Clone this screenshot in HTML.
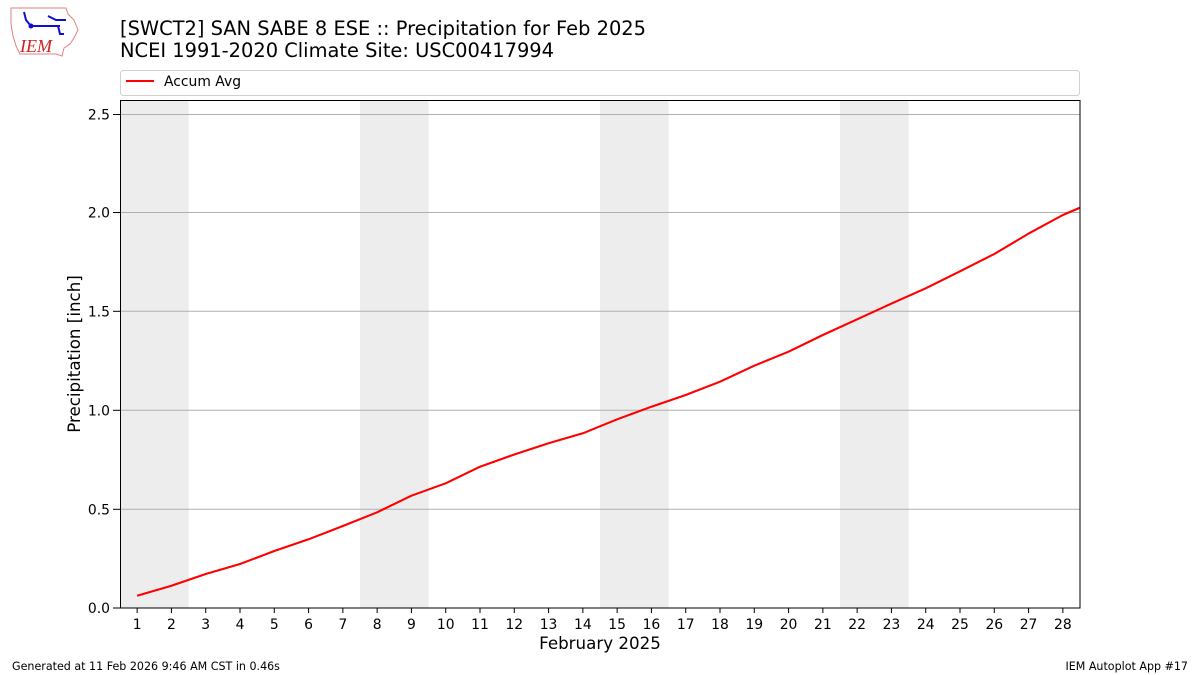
<!DOCTYPE html>
<html><head><meta charset="utf-8">
<style>
html,body{margin:0;padding:0;background:#fff;}
svg{display:block;font-family:"DejaVu Sans","Liberation Sans",sans-serif;}
</style></head>
<body>
<svg width="1200" height="675" viewBox="0 0 1200 675" xmlns="http://www.w3.org/2000/svg">
<defs><clipPath id="pc"><rect x="120" y="100" width="960" height="508"/></clipPath></defs>
<rect width="1200" height="675" fill="#fff"/>
<!-- logo -->
<g>
<path d="M11,8 L66,8 L68,14 L74,20 L78,30 L74,38 L70,44 L64,48 L62,56 L56,54 L20,54 L16,46 L13,36 L11,24 Z" fill="none" stroke="#e08080" stroke-width="1"/>
<path d="M24,12 L26,20 L31,26 L60,26 M48,16 L56,20 L66,20 M58,26 L60,34 L64,34" fill="none" stroke="#1010d0" stroke-width="2"/>
<circle cx="31" cy="26" r="2.5" fill="#1010d0"/>
<text x="20" y="52" font-family="Liberation Serif,serif" font-style="italic" font-size="18" fill="#d02020">IEM</text>
</g>
<!-- title -->
<text x="120" y="35" font-size="19.4" fill="#000" textLength="526" lengthAdjust="spacingAndGlyphs">[SWCT2] SAN SABE 8 ESE :: Precipitation for Feb 2025</text>
<text x="120" y="57" font-size="19.4" fill="#000" textLength="434" lengthAdjust="spacingAndGlyphs">NCEI 1991-2020 Climate Site: USC00417994</text>
<!-- legend -->
<rect x="120.5" y="70.5" width="959" height="25" rx="3" ry="3" fill="#fff" stroke="#d0d0d0" stroke-width="1"/>
<line x1="126" y1="81" x2="154" y2="81" stroke="#ff0000" stroke-width="2"/>
<text x="164" y="86" font-size="13.9" fill="#000">Accum Avg</text>
<!-- shading -->
<g fill="#ededed">
<rect x="120" y="100" width="68.6" height="508"/>
<rect x="360" y="100" width="68.6" height="508"/>
<rect x="600" y="100" width="68.6" height="508"/>
<rect x="840" y="100" width="68.6" height="508"/>
</g>
<!-- grid -->
<g stroke="#b0b0b0" stroke-width="1">
<line x1="120" x2="1080" y1="509.3" y2="509.3"/>
<line x1="120" x2="1080" y1="410.3" y2="410.3"/>
<line x1="120" x2="1080" y1="311.3" y2="311.3"/>
<line x1="120" x2="1080" y1="212.5" y2="212.5"/>
<line x1="120" x2="1080" y1="114.5" y2="114.5"/>
</g>
<!-- series -->
<polyline clip-path="url(#pc)" fill="none" stroke="#ff0000" stroke-width="2.1" stroke-linejoin="round"
points="137.14,595.7 171.43,585.7 205.71,574 240,564 274.29,551 308.57,539.3 342.86,526 377.14,512.3 411.43,495.7 445.71,483.3 480,466.7 514.29,454.5 548.57,443.3 582.86,433.3 617.14,419.3 651.43,406.7 685.71,395 720,381.7 754.29,365.7 788.57,351.7 822.86,335 857.14,319.3 891.43,303.6 925.71,288.3 960,271.3 994.29,254 1028.57,233.6 1062.86,215 1097.14,200.4"/>
<!-- axes frame -->
<rect x="120.5" y="100.5" width="959.5" height="507.5" fill="none" stroke="#000" stroke-width="1"/>
<!-- y ticks -->
<g stroke="#000" stroke-width="1">
<line x1="113" x2="120" y1="608" y2="608"/>
<line x1="113" x2="120" y1="509.3" y2="509.3"/>
<line x1="113" x2="120" y1="410.3" y2="410.3"/>
<line x1="113" x2="120" y1="311.3" y2="311.3"/>
<line x1="113" x2="120" y1="212.5" y2="212.5"/>
<line x1="113" x2="120" y1="114.5" y2="114.5"/>
</g>
<g font-size="13.9" fill="#000" text-anchor="end">
<text x="110" y="613">0.0</text>
<text x="110" y="514.3">0.5</text>
<text x="110" y="415.3">1.0</text>
<text x="110" y="316.3">1.5</text>
<text x="110" y="217.5">2.0</text>
<text x="110" y="119.5">2.5</text>
</g>
<text transform="translate(80,354) rotate(-90)" font-size="16.7" text-anchor="middle" fill="#000">Precipitation [inch]</text>
<!-- x ticks -->
<g stroke="#000" stroke-width="1">
<line x1="137.14" x2="137.14" y1="608" y2="613"/><line x1="171.43" x2="171.43" y1="608" y2="613"/><line x1="205.71" x2="205.71" y1="608" y2="613"/><line x1="240" x2="240" y1="608" y2="613"/><line x1="274.29" x2="274.29" y1="608" y2="613"/><line x1="308.57" x2="308.57" y1="608" y2="613"/><line x1="342.86" x2="342.86" y1="608" y2="613"/><line x1="377.14" x2="377.14" y1="608" y2="613"/><line x1="411.43" x2="411.43" y1="608" y2="613"/><line x1="445.71" x2="445.71" y1="608" y2="613"/><line x1="480" x2="480" y1="608" y2="613"/><line x1="514.29" x2="514.29" y1="608" y2="613"/><line x1="548.57" x2="548.57" y1="608" y2="613"/><line x1="582.86" x2="582.86" y1="608" y2="613"/><line x1="617.14" x2="617.14" y1="608" y2="613"/><line x1="651.43" x2="651.43" y1="608" y2="613"/><line x1="685.71" x2="685.71" y1="608" y2="613"/><line x1="720" x2="720" y1="608" y2="613"/><line x1="754.29" x2="754.29" y1="608" y2="613"/><line x1="788.57" x2="788.57" y1="608" y2="613"/><line x1="822.86" x2="822.86" y1="608" y2="613"/><line x1="857.14" x2="857.14" y1="608" y2="613"/><line x1="891.43" x2="891.43" y1="608" y2="613"/><line x1="925.71" x2="925.71" y1="608" y2="613"/><line x1="960" x2="960" y1="608" y2="613"/><line x1="994.29" x2="994.29" y1="608" y2="613"/><line x1="1028.57" x2="1028.57" y1="608" y2="613"/><line x1="1062.86" x2="1062.86" y1="608" y2="613"/>
</g>
<g font-size="13.9" fill="#000" text-anchor="middle">
<text x="137.14" y="629">1</text><text x="171.43" y="629">2</text><text x="205.71" y="629">3</text><text x="240" y="629">4</text><text x="274.29" y="629">5</text><text x="308.57" y="629">6</text><text x="342.86" y="629">7</text><text x="377.14" y="629">8</text><text x="411.43" y="629">9</text><text x="445.71" y="629">10</text><text x="480" y="629">11</text><text x="514.29" y="629">12</text><text x="548.57" y="629">13</text><text x="582.86" y="629">14</text><text x="617.14" y="629">15</text><text x="651.43" y="629">16</text><text x="685.71" y="629">17</text><text x="720" y="629">18</text><text x="754.29" y="629">19</text><text x="788.57" y="629">20</text><text x="822.86" y="629">21</text><text x="857.14" y="629">22</text><text x="891.43" y="629">23</text><text x="925.71" y="629">24</text><text x="960" y="629">25</text><text x="994.29" y="629">26</text><text x="1028.57" y="629">27</text><text x="1062.86" y="629">28</text>
</g>
<text x="600" y="649" font-size="16.7" text-anchor="middle" fill="#000">February 2025</text>
<!-- footer -->
<text x="12" y="670" font-size="11.1" fill="#000">Generated at 11 Feb 2026 9:46 AM CST in 0.46s</text>
<text x="1188" y="670" font-size="11.1" fill="#000" text-anchor="end">IEM Autoplot App #17</text>
</svg>
</body></html>
